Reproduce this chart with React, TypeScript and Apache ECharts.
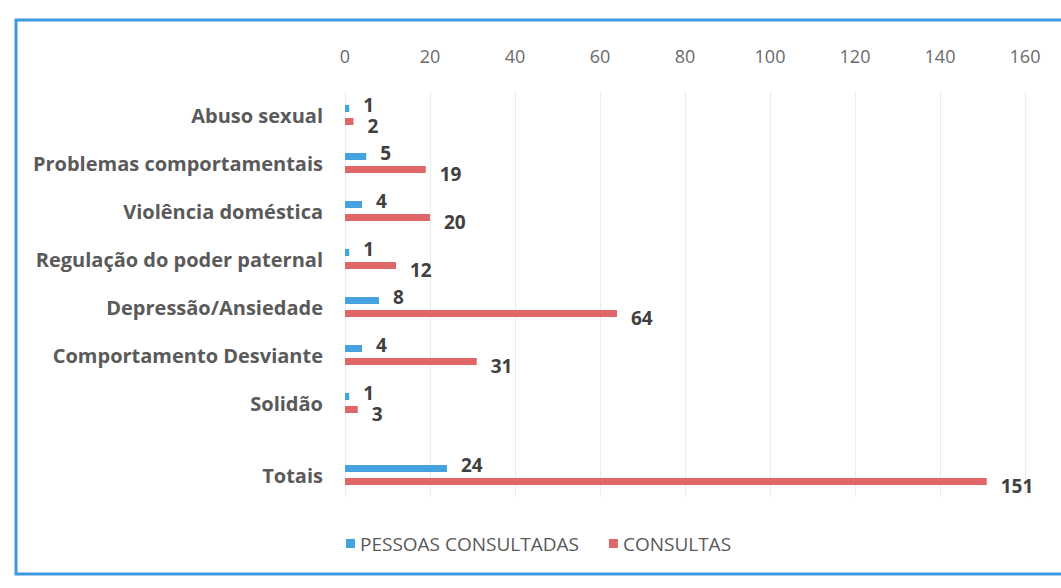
import React, { useEffect, useRef } from "react";
import * as echarts from "echarts";

const categories = [
  "Abuso sexual",
  "Problemas comportamentais",
  "Violência doméstica",
  "Regulação do poder paternal",
  "Depressão/Ansiedade",
  "Comportamento Desviante",
  "Solidão",
  "Totais",
];
const pessoasConsultadas = [1, 5, 4, 1, 8, 4, 1, 24];
const consultas = [2, 19, 20, 12, 64, 31, 3, 151];
const xTicks = [0, 20, 40, 60, 80, 100, 120, 140, 160];

const BLUE = "#45a2e0";
const RED = "#e06767";
const FONT = "'Open Sans', 'Noto Sans', sans-serif";

export default function App() {
  const ref = useRef<HTMLDivElement>(null);

  useEffect(() => {
    if (!ref.current) return;
    const chart = echarts.init(ref.current, undefined, { renderer: "svg" });
    const n = categories.length - 1;
    const mainCats = categories.slice(0, n);
    const totCats = categories.slice(n);

    const gridBase = { left: 345, width: 680 };
    const hiddenX = (idx: number) => ({
      type: "value",
      gridIndex: idx,
      min: xTicks[0],
      max: xTicks[xTicks.length - 1],
      interval: 20,
      show: false,
    });
    const catY = (idx: number, data: string[]) => ({
      type: "category",
      gridIndex: idx,
      data,
      inverse: true,
      axisLine: { show: false },
      axisTick: { show: false },
      axisLabel: {
        color: "#5a5a5a",
        fontSize: 20,
        fontWeight: "bold",
        fontFamily: FONT,
        margin: 22,
      },
    });
    const labelBase = {
      show: true,
      position: "right",
      distance: 14,
      color: "#404040",
      fontSize: 19,
      fontWeight: "bold",
      fontFamily: FONT,
    };
    const bar = (name: string, data: number[], idx: number, color: string, offset: number[]) => ({
      name,
      type: "bar",
      xAxisIndex: idx,
      yAxisIndex: idx,
      data,
      barWidth: 7,
      barGap: "86%",
      itemStyle: { color },
      label: { ...labelBase, offset },
    });

    chart.setOption({
      animation: false,
      backgroundColor: "#ffffff",
      graphic: [
        {
          type: "rect",
          shape: { x: 16, y: 20, width: 1060, height: 554 },
          style: { fill: "none", stroke: "#3d9ade", lineWidth: 3 },
          silent: true,
        },
      ],
      legend: {
        data: ["PESSOAS CONSULTADAS", "CONSULTAS"],
        left: 341,
        top: 529,
        itemWidth: 9,
        itemHeight: 9,
        itemGap: 30,
        icon: "rect",
        textStyle: { color: "#595959", fontSize: 19, fontFamily: FONT },
      },
      grid: [
        { ...gridBase, top: 91, height: 406 },
        { ...gridBase, top: 91, height: 336 },
        { ...gridBase, top: 451, height: 48 },
      ],
      xAxis: [
        {
          type: "value",
          gridIndex: 0,
          position: "top",
          min: xTicks[0],
          max: xTicks[xTicks.length - 1],
          interval: 20,
          axisLine: { show: false },
          axisTick: { show: false },
          axisLabel: { color: "#6a6a6a", fontSize: 18, fontFamily: FONT, margin: 26 },
          splitLine: { show: true, lineStyle: { color: "#ececec", width: 1 } },
        },
        hiddenX(1),
        hiddenX(2),
      ],
      yAxis: [
        { type: "category", gridIndex: 0, data: [""], show: false },
        catY(1, mainCats),
        catY(2, totCats),
      ],
      series: [
        bar("PESSOAS CONSULTADAS", pessoasConsultadas.slice(0, n), 1, BLUE, [0, -3]),
        bar("CONSULTAS", consultas.slice(0, n), 1, RED, [0, 4]),
        bar("PESSOAS CONSULTADAS", pessoasConsultadas.slice(n), 2, BLUE, [0, -3]),
        bar("CONSULTAS", consultas.slice(n), 2, RED, [0, 4]),
      ],
    });
    return () => chart.dispose();
  }, []);

  return (
    <div
      ref={ref}
      style={{ position: "fixed", left: 0, top: 0, width: 1061, height: 588 }}
    />
  );
}
